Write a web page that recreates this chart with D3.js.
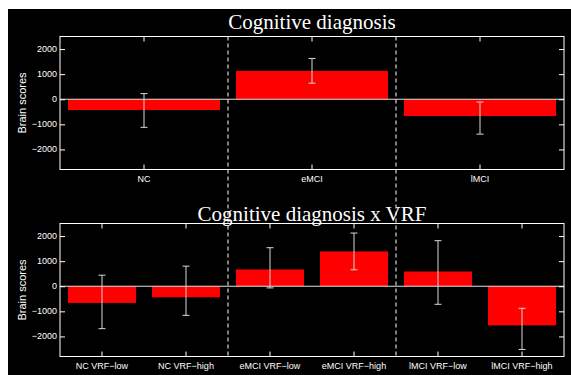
<!DOCTYPE html>
<html>
<head>
<meta charset="utf-8">
<script src="https://cdn.jsdelivr.net/npm/d3@7"></script>
<style>
  body { margin: 0; background: #fff; }
  text { fill: #fff; }
</style>
</head>
<body>
<div id="chart"></div>
<script>
// values
const topTitle = "Cognitive diagnosis";
const topCategories = ["NC", "eMCI", "lMCI"];
const topMeans = [-430, 1130, -670];
const topErrLow = [-1120, 640, -1390];
const topErrHigh = [225, 1625, -110];

const bottomTitle = "Cognitive diagnosis x VRF";
const bottomCategories = ["NC VRF\u2212low", "NC VRF\u2212high", "eMCI VRF\u2212low", "eMCI VRF\u2212high", "lMCI VRF\u2212low", "lMCI VRF\u2212high"];
const bottomMeans = [-665, -440, 667, 1388, 587, -1560];
const bottomErrLow = [-1690, -1160, -67, 655, -720, -2520];
const bottomErrHigh = [440, 800, 1535, 2120, 1815, -880];

const yTicks = [-2000, -1000, 0, 1000, 2000];
const yDomain = [-2800, 2500];
const groupBreaks = [1, 2]; // between NC | eMCI | lMCI (index in top categories)

const W = 571, H = 375;
const left = 60, right = 564;

const svg = d3.select("#chart").append("svg")
  .attr("width", W)
  .attr("height", H);

svg.append("rect")
  .attr("x", 8).attr("y", 9)
  .attr("width", W - 8).attr("height", H - 9)
  .attr("fill", "#000");

function drawPanel(cfg) {
  const x = d3.scaleBand()
    .domain(cfg.categories)
    .range([left, right])
    .padding(0);

  const y = d3.scaleLinear()
    .domain(yDomain)
    .range([cfg.bottom, cfg.top]);

  const g = svg.append("g");
  const data = cfg.categories.map((c, i) => ({
    cat: c, mean: cfg.means[i], lo: cfg.errLow[i], hi: cfg.errHigh[i]
  }));
  const bw = x.step() * cfg.barFrac;

  // bars
  g.selectAll(".bar").data(data).enter()
    .append("rect")
    .attr("x", d => x(d.cat) + x.bandwidth() / 2 - bw / 2)
    .attr("y", d => y(Math.max(0, d.mean)))
    .attr("width", bw)
    .attr("height", d => Math.abs(y(d.mean) - y(0)))
    .attr("fill", "#ff0000");

  // zero line
  g.append("line")
    .attr("x1", left).attr("x2", right)
    .attr("y1", y(0)).attr("y2", y(0))
    .attr("stroke", "#e0e0e0")
    .attr("stroke-width", 1);

  // error bars
  const eb = g.selectAll(".err").data(data).enter().append("g")
    .attr("stroke", "#d8d8d8")
    .attr("stroke-width", 1);
  const cx = d => x(d.cat) + x.bandwidth() / 2;
  eb.append("line")
    .attr("x1", cx).attr("x2", cx)
    .attr("y1", d => y(d.lo)).attr("y2", d => y(d.hi));
  eb.append("line")
    .attr("x1", d => cx(d) - 3.5).attr("x2", d => cx(d) + 3.5)
    .attr("y1", d => y(d.lo)).attr("y2", d => y(d.lo));
  eb.append("line")
    .attr("x1", d => cx(d) - 3.5).attr("x2", d => cx(d) + 3.5)
    .attr("y1", d => y(d.hi)).attr("y2", d => y(d.hi));

  // axes
  const ax = g.append("g").attr("font-family", "Liberation Sans, Arial, sans-serif").attr("font-size", 9);

  ax.append("g")
    .attr("transform", "translate(" + left + ",0)")
    .call(d3.axisRight(y).tickValues(yTicks).tickSize(5).tickFormat(""));
  ax.append("g")
    .attr("transform", "translate(" + right + ",0)")
    .call(d3.axisLeft(y).tickValues(yTicks).tickSize(5).tickFormat(""));
  ax.append("g")
    .attr("transform", "translate(0," + cfg.bottom + ")")
    .call(d3.axisTop(x).tickSize(5).tickFormat(""));
  ax.append("g")
    .attr("transform", "translate(0," + cfg.top + ")")
    .call(d3.axisBottom(x).tickSize(5).tickFormat(""));
  ax.selectAll(".domain").remove();
  ax.selectAll(".tick line").attr("stroke", "#fff");

  ax.selectAll(".ylab").data(yTicks).enter()
    .append("text")
    .attr("x", left - 3)
    .attr("y", d => y(d) + 3)
    .attr("text-anchor", "end")
    .text(d => d3.format("d")(d).replace("-", "\u2212"));

  ax.selectAll(".xlab").data(cfg.categories).enter()
    .append("text")
    .attr("x", d => x(d) + x.bandwidth() / 2)
    .attr("y", cfg.bottom + 12)
    .attr("text-anchor", "middle")
    .text(d => d);

  // box
  g.append("rect")
    .attr("x", left).attr("y", cfg.top)
    .attr("width", right - left).attr("height", cfg.bottom - cfg.top)
    .attr("fill", "none")
    .attr("stroke", "#fff")
    .attr("stroke-width", 1);

  g.append("text")
    .attr("transform", "translate(26," + (cfg.top + cfg.bottom) / 2 + ") rotate(-90)")
    .attr("text-anchor", "middle")
    .attr("font-family", "Liberation Sans, Arial, sans-serif")
    .attr("font-size", 11)
    .text("Brain scores");

  g.append("text")
    .attr("x", (left + right) / 2)
    .attr("y", cfg.top - cfg.titleGap)
    .attr("text-anchor", "middle")
    .attr("font-family", "Liberation Serif, Times New Roman, serif")
    .attr("font-size", 21)
    .text(cfg.title);

  return x;
}

const xTop = drawPanel({
  title: topTitle, categories: topCategories, means: topMeans,
  errLow: topErrLow, errHigh: topErrHigh, top: 36.5, bottom: 169.5,
  barFrac: 0.905, titleGap: 8
});

drawPanel({
  title: bottomTitle, categories: bottomCategories, means: bottomMeans,
  errLow: bottomErrLow, errHigh: bottomErrHigh, top: 223.5, bottom: 356.5,
  barFrac: 0.81, titleGap: 2.5
});

// dashed group separators running through both panels
svg.selectAll(".sep").data(groupBreaks).enter()
  .append("line")
  .attr("x1", d => left + d * xTop.step())
  .attr("x2", d => left + d * xTop.step())
  .attr("y1", 36.5).attr("y2", 356.5)
  .attr("stroke", "#fff")
  .attr("stroke-width", 1)
  .attr("stroke-dasharray", "4,3");
</script>
</body>
</html>
